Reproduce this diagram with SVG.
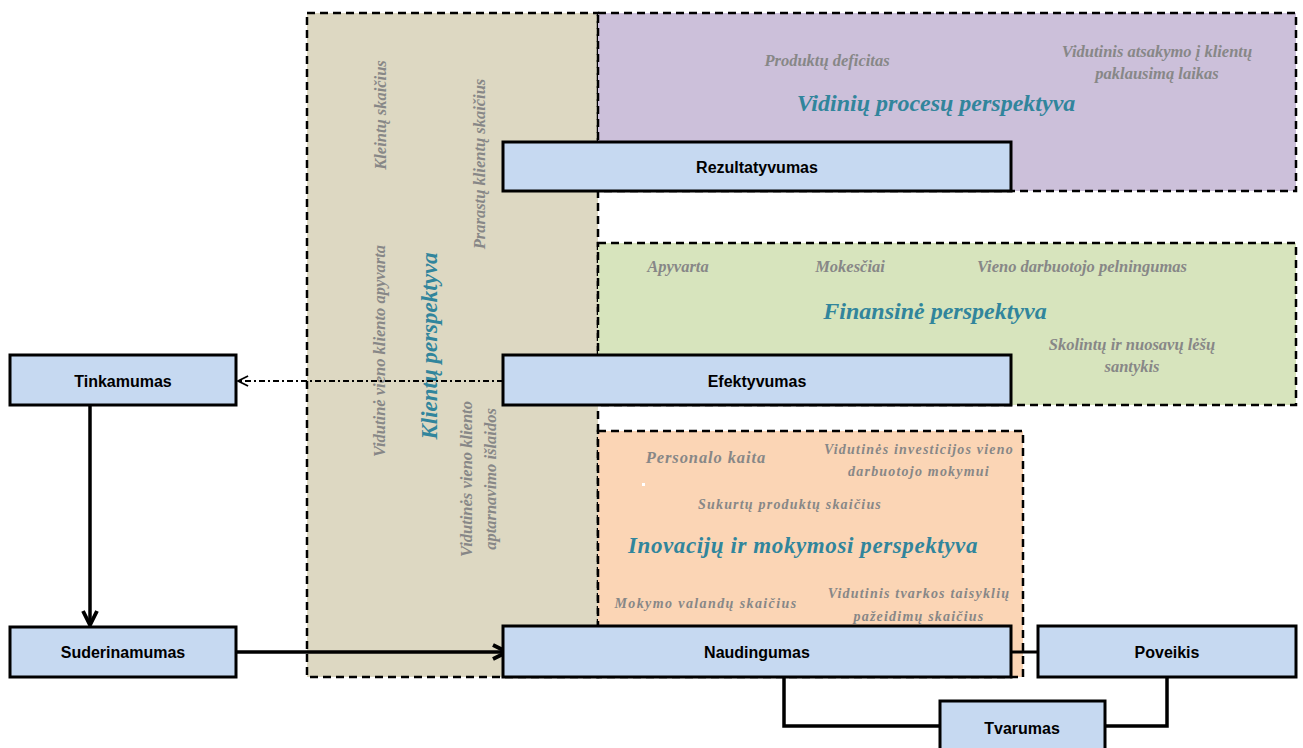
<svg xmlns="http://www.w3.org/2000/svg" width="1303" height="748" viewBox="0 0 1303 748">
<style>
.panel{stroke:#000;stroke-width:2.5;stroke-dasharray:8 5}
.box{fill:#C6D9F1;stroke:#000;stroke-width:3}
.lbl{font-family:"Liberation Sans",Arial,sans-serif;font-weight:bold;font-size:16px;fill:#000;text-anchor:middle}
.m{font-family:"Liberation Serif","Times New Roman",serif;font-weight:bold;font-style:italic;font-size:16.5px;fill:#878787;text-anchor:middle}
.o{font-size:14px;letter-spacing:1.2px}
.h{font-family:"Liberation Serif","Times New Roman",serif;font-weight:bold;font-style:italic;font-size:24px;fill:#31859C;text-anchor:middle}
.conn{fill:none;stroke:#000;stroke-width:3.5}
</style>
<defs>
<marker id="arr" viewBox="0 0 10 10" refX="9" refY="5" markerWidth="5" markerHeight="5" orient="auto" markerUnits="strokeWidth">
<path d="M1,1 L9,5 L1,9" fill="none" stroke="#000" stroke-width="2.2"/>
</marker>
<marker id="open" viewBox="0 0 10 10" refX="9" refY="5" markerWidth="7" markerHeight="7" orient="auto" markerUnits="strokeWidth">
<path d="M1,1 L9,5 L1,9" fill="none" stroke="#000" stroke-width="1.4"/>
</marker>
</defs>
<rect width="1303" height="748" fill="#fff"/>
<g id="panel-klientu">
<rect class="panel" x="307" y="13" width="291" height="664" fill="#DDD8C2"/>
<text class="m" transform="translate(386,115) rotate(-90)">Kleintų skaičius</text>
<text class="m" transform="translate(485,164) rotate(-90)">Prarastų klientų skaičius</text>
<text class="m" transform="translate(385,351) rotate(-90)">Vidutinė vieno kliento apyvarta</text>
<text class="h" style="font-size:23px" transform="translate(437,346) rotate(-90)">Klientų perspektyva</text>
<text class="m" transform="translate(472,479) rotate(-90)">Vidutinės vieno kliento</text>
<text class="m" transform="translate(496,479) rotate(-90)">aptarnavimo išlaidos</text>
</g>
<g id="panel-vidiniu">
<rect class="panel" x="598" y="13" width="698" height="178" fill="#CCC0DA"/>
<text class="m" x="827" y="66">Produktų deficitas</text>
<text class="m" x="1157" y="57">Vidutinis atsakymo į klientų</text>
<text class="m" x="1157" y="79">paklausimą laikas</text>
<text class="h" x="936" y="111">Vidinių procesų perspektyva</text>
</g>
<g id="panel-finansine">
<rect class="panel" x="598" y="243" width="698" height="162" fill="#D7E4BD"/>
<text class="m" x="678" y="272">Apyvarta</text>
<text class="m" x="850" y="272">Mokesčiai</text>
<text class="m" x="1082" y="272">Vieno darbuotojo pelningumas</text>
<text class="h" x="935" y="319">Finansinė perspektyva</text>
<text class="m" x="1132" y="350">Skolintų ir nuosavų lėšų</text>
<text class="m" x="1132" y="372">santykis</text>
</g>
<g id="panel-inovaciju">
<rect class="panel" x="598" y="431" width="425" height="246" fill="#FBD5B5"/>
<rect x="642" y="483" width="3" height="3" fill="#fff"/>
<text class="m o" style="font-size:16.5px;letter-spacing:0.9px" x="706" y="463">Personalo kaita</text>
<text class="m o" x="919" y="454">Vidutinės investicijos vieno</text>
<text class="m o" x="919" y="476">darbuotojo mokymui</text>
<text class="m o" x="790" y="509">Sukurtų produktų skaičius</text>
<text class="h" style="font-size:23px;letter-spacing:0.6px" x="803" y="553">Inovacijų ir mokymosi perspektyva</text>
<text class="m o" style="letter-spacing:1.4px" x="706" y="608">Mokymo valandų skaičius</text>
<text class="m o" x="919" y="598">Vidutinis tvarkos taisyklių</text>
<text class="m o" x="919" y="621">pažeidimų skaičius</text>
</g>
<g id="connectors">
<line x1="503" y1="381" x2="238" y2="381" fill="none" stroke="#000" stroke-width="1.8" stroke-dasharray="6 3 2 3" marker-end="url(#open)"/>
<line class="conn" x1="90" y1="405" x2="90" y2="625" marker-end="url(#arr)"/>
<line class="conn" x1="236" y1="652" x2="507" y2="652" marker-end="url(#arr)"/>
<line x1="1011" y1="652" x2="1038" y2="652" stroke="#000" stroke-width="3"/>
<polyline class="conn" points="784,677 784,726 940,726"/>
<polyline class="conn" points="1167,677 1167,726 1105,726"/>
</g>
<g id="node-rezultatyvumas">
<rect class="box" x="503" y="142" width="508" height="49"/>
<text class="lbl" x="757" y="173">Rezultatyvumas</text>
</g>
<g id="node-efektyvumas">
<rect class="box" x="503" y="355" width="508" height="50"/>
<text class="lbl" x="757" y="387">Efektyvumas</text>
</g>
<g id="node-naudingumas">
<rect class="box" x="503" y="626" width="508" height="51"/>
<text class="lbl" x="757" y="658">Naudingumas</text>
</g>
<g id="node-tinkamumas">
<rect class="box" x="10" y="355" width="226" height="50"/>
<text class="lbl" x="123" y="387">Tinkamumas</text>
</g>
<g id="node-suderinamumas">
<rect class="box" x="10" y="627" width="226" height="50"/>
<text class="lbl" x="123" y="658">Suderinamumas</text>
</g>
<g id="node-poveikis">
<rect class="box" x="1038" y="626" width="258" height="51"/>
<text class="lbl" x="1167" y="658">Poveikis</text>
</g>
<g id="node-tvarumas">
<rect class="box" x="940" y="701" width="165" height="52"/>
<text class="lbl" x="1022" y="734">Tvarumas</text>
</g>
</svg>
